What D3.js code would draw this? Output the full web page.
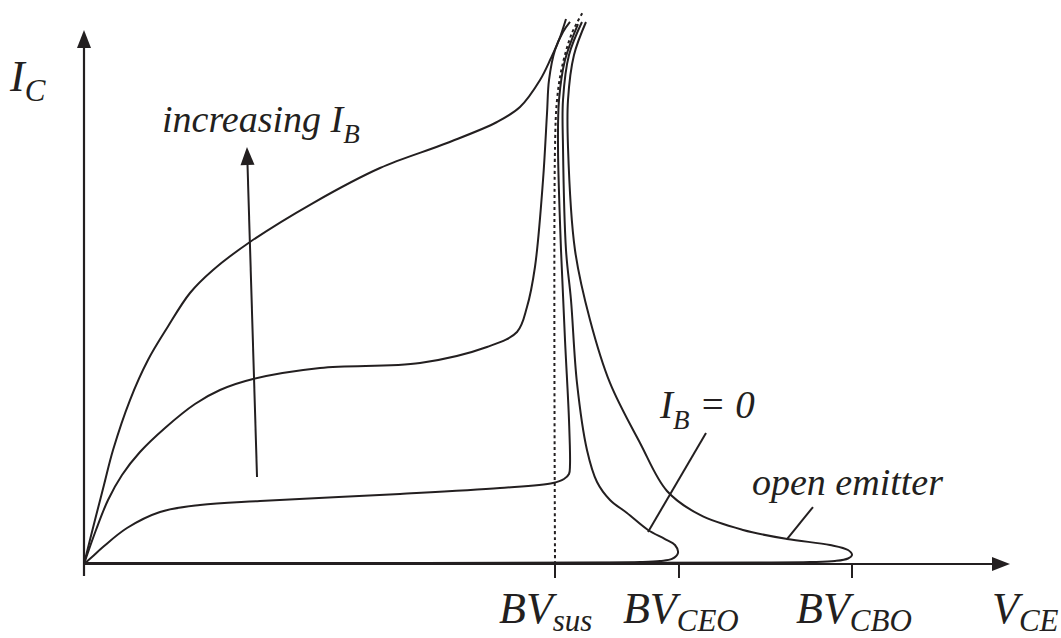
<!DOCTYPE html>
<html>
<head>
<meta charset="utf-8">
<script src="https://cdn.jsdelivr.net/npm/d3@7"></script>
<style>
  html, body { margin: 0; padding: 0; background: #fff; }
  svg { display: block; }
  text { font-family: "Liberation Serif", "Times New Roman", serif; font-style: italic; fill: #231f20; }
</style>
</head>
<body>
<svg id="chart" width="1061" height="638"></svg>
<script>
// ---------- data (V_CE in units where BV_CBO = 100, I_C in relative units) ----------
const curveHighIB_x = [0, 1.43, 2.60, 3.78, 5.99, 8.33, 10.81, 13.80, 16.80, 21.61, 29.82, 38.54, 47.27, 53.78, 56.77, 59.38, 60.81, 61.85, 62.76];
const curveHighIB_y = [0, 8.24, 14.79, 21.35, 30.71, 38.20, 44.19, 50.75, 55.06, 60.30, 67.60, 74.16, 78.84, 82.77, 85.58, 90.64, 94.76, 98.13, 102.06];

const curveMidIB_x = [0, 1.56, 3.13, 4.95, 7.29, 10.55, 14.45, 17.71, 22.01, 30.73, 43.75, 52.47, 56.38, 57.68, 58.72, 59.77, 60.29, 60.55, 61.33, 62.37, 63.28];
const curveMidIB_y = [0, 6.37, 11.99, 16.67, 20.97, 25.47, 29.96, 32.58, 34.64, 36.70, 37.64, 40.64, 43.45, 48.13, 55.62, 71.91, 84.46, 90.64, 96.25, 99.63, 101.50];

const curveLowIB_x = [0, 1.04, 2.47, 5.60, 9.90, 15.10, 22.92, 41.15, 54.17, 61.07, 62.50, 63.15, 63.28, 63.15, 62.63, 62.11, 61.72, 61.85, 62.63, 64.32];
const curveLowIB_y = [0, 1.31, 3.18, 6.74, 9.74, 11.05, 11.80, 13.11, 14.23, 15.17, 15.92, 16.85, 18.54, 26.97, 41.95, 58.80, 78.09, 86.89, 94.38, 101.12];

const curveIB0_x = [0, 28.13, 67.19, 72.40, 75.00, 76.56, 77.34, 76.95, 75.65, 73.44, 70.70, 68.49, 66.80, 65.49, 64.19, 63.41, 62.76, 62.37, 62.37, 63.15, 64.84];
const curveIB0_y = [0.19, 0.19, 0.28, 0.37, 0.56, 0.94, 2.06, 3.56, 4.68, 6.37, 9.55, 11.99, 15.36, 21.35, 33.90, 49.44, 58.80, 78.09, 86.89, 95.32, 101.50];

const curveOpenEmitter_x = [0, 41.15, 88.02, 94.53, 97.79, 99.48, 100, 99.48, 97.14, 91.54, 85.81, 80.21, 75.91, 72.40, 68.49, 65.89, 63.93, 63.02, 63.02, 63.80, 65.36];
const curveOpenEmitter_y = [0.19, 0.19, 0.28, 0.37, 0.56, 1.03, 1.69, 2.62, 3.56, 4.68, 6.37, 9.18, 13.67, 22.66, 33.90, 45.69, 58.80, 78.09, 86.89, 95.32, 101.50];

const sustainLine_x = [61.33, 61.33, 61.59, 62.24, 63.54, 64.97];
const sustainLine_y = [0, 78.09, 86.89, 93.07, 99.44, 103.37];

const tickNames = ["BV", "BV", "BV"];
const tickSubs = ["sus", "CEO", "CBO"];
const tickValues = [61.33, 77.47, 100];

const arrowIB_from = [22.53, 16.29];
const arrowIB_to = [21.22, 78.09];
const pointerIB0 = [[73.44, 5.99], [80.99, 24.53]];
const pointerOE = [[91.54, 4.68], [94.92, 10.67]];

const xAxisMax = 120.57;
const yAxisMax = 100;

// ---------- drawing ----------
const svg = d3.select("#chart");
const x = d3.scaleLinear().domain([0, 100]).range([84, 852]);
const y = d3.scaleLinear().domain([0, 100]).range([564, 30]);
const ink = "#231f20";

const line = d3.line().x(d => x(d[0])).y(d => y(d[1])).curve(d3.curveCatmullRom.alpha(0.5));
const zip = (a, b) => a.map((v, i) => [v, b[i]]);

// axes
svg.append("line").attr("x1", x(0)).attr("x2", x(xAxisMax) - 14).attr("y1", y(0)).attr("y2", y(0))
  .attr("stroke", ink).attr("stroke-width", 2.2);
svg.append("line").attr("x1", x(0)).attr("x2", x(0)).attr("y1", y(0) + 12).attr("y2", y(yAxisMax) + 14)
  .attr("stroke", ink).attr("stroke-width", 2.2);
// arrowheads
const xt = x(xAxisMax), yt = y(0);
svg.append("path").attr("d", `M${xt},${yt} L${xt - 18},${yt - 7} L${xt - 18},${yt + 7} Z`).attr("fill", ink);
const xa = x(0), ya = y(yAxisMax);
svg.append("path").attr("d", `M${xa},${ya} L${xa - 7},${ya + 18} L${xa + 7},${ya + 18} Z`).attr("fill", ink);

// ticks
svg.selectAll("line.tick").data(tickValues).join("line").attr("class", "tick")
  .attr("x1", d => x(d)).attr("x2", d => x(d)).attr("y1", y(0)).attr("y2", y(0) + 14)
  .attr("stroke", ink).attr("stroke-width", 2);

// sustaining dotted line
svg.append("path").attr("d", line(zip(sustainLine_x, sustainLine_y)))
  .attr("fill", "none").attr("stroke", ink).attr("stroke-width", 2).attr("stroke-dasharray", "3,3");

// curves
const curves = [
  zip(curveHighIB_x, curveHighIB_y),
  zip(curveMidIB_x, curveMidIB_y),
  zip(curveLowIB_x, curveLowIB_y),
  zip(curveIB0_x, curveIB0_y),
  zip(curveOpenEmitter_x, curveOpenEmitter_y)
];
svg.selectAll("path.curve").data(curves).join("path").attr("class", "curve")
  .attr("d", line).attr("fill", "none").attr("stroke", ink).attr("stroke-width", 2);

// increasing IB arrow
{
  const x1 = x(arrowIB_from[0]), y1 = y(arrowIB_from[1]);
  const x2 = x(arrowIB_to[0]), y2 = y(arrowIB_to[1]);
  const ang = Math.atan2(y2 - y1, x2 - x1);
  const L = 18, W = 7;
  const bx = x2 - L * Math.cos(ang), by = y2 - L * Math.sin(ang);
  svg.append("line").attr("x1", x1).attr("y1", y1).attr("x2", bx).attr("y2", by)
    .attr("stroke", ink).attr("stroke-width", 2);
  const px = -Math.sin(ang), py = Math.cos(ang);
  svg.append("path").attr("d", `M${x2},${y2} L${bx + W * px},${by + W * py} L${bx - W * px},${by - W * py} Z`).attr("fill", ink);
}
// pointers
[pointerIB0, pointerOE].forEach(p => {
  svg.append("line").attr("x1", x(p[0][0])).attr("y1", y(p[0][1])).attr("x2", x(p[1][0])).attr("y2", y(p[1][1]))
    .attr("stroke", ink).attr("stroke-width", 2);
});

// ---------- text ----------
function label(xp, yp, size, parts) {
  const t = svg.append("text").attr("x", xp).attr("y", yp).attr("font-size", size);
  parts.forEach(p => {
    const s = t.append("tspan").text(p.t);
    if (p.size) s.attr("font-size", p.size);
    if (p.dy) s.attr("dy", p.dy);
  });
  return t;
}
// tick labels
tickValues.forEach((v, i) => {
  label(x(v) - 56, 623, 44, [{ t: tickNames[i] }, { t: tickSubs[i], size: 31, dy: 8 }]);
});
label(992, 623, 44, [{ t: "V" }, { t: "CE", size: 31, dy: 8 }]);
label(10, 91, 44, [{ t: "I" }, { t: "C", size: 31, dy: 10 }]);
label(162, 132, 38, [{ t: "increasing I" }, { t: "B", size: 27, dy: 11 }]);
label(660, 418, 39, [{ t: "I" }, { t: "B", size: 27, dy: 11 }, { t: " = 0", dy: -11 }]);
label(752, 495, 38, [{ t: "open emitter" }]);
</script>
</body>
</html>
